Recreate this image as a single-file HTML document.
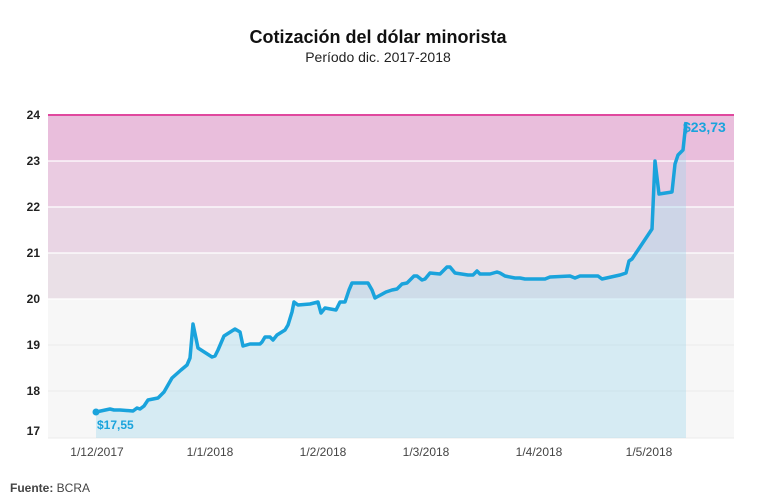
<!DOCTYPE html>
<html><head><meta charset="utf-8"><style>
body{margin:0;background:#fff;width:757px;height:497px;overflow:hidden;font-family:"Liberation Sans",Arial,sans-serif}
</style></head><body>
<svg width="757" height="497" xmlns="http://www.w3.org/2000/svg" font-family="Liberation Sans, Arial, sans-serif">
<text x="378" y="43" text-anchor="middle" font-size="18" font-weight="bold" fill="#111">Cotización del dólar minorista</text>
<text x="378" y="62" text-anchor="middle" font-size="14" fill="#222">Período dic. 2017-2018</text>
<rect x="48" y="115" width="686" height="46" fill="#e9bedc"/>
<rect x="48" y="161" width="686" height="46" fill="#eacbe1"/>
<rect x="48" y="207" width="686" height="46" fill="#e9d5e4"/>
<rect x="48" y="253" width="686" height="46" fill="#eae0e7"/>
<rect x="48" y="299" width="686" height="139" fill="#f7f7f7"/>
<g stroke="#fff" stroke-width="1.3"><line x1="48" y1="161" x2="734" y2="161"/><line x1="48" y1="207" x2="734" y2="207"/><line x1="48" y1="253" x2="734" y2="253"/><line x1="48" y1="299" x2="734" y2="299"/></g>
<g stroke="#ebebeb" stroke-width="1"><line x1="48" y1="345" x2="734" y2="345"/><line x1="48" y1="391" x2="734" y2="391"/><line x1="48" y1="438" x2="734" y2="438"/></g>
<line x1="48" y1="115" x2="734" y2="115" stroke="#e0489e" stroke-width="2"/>
<polygon fill="rgba(150,212,236,0.33)" points="96,438 96,412 110,409 114,410 120,410 133,411 137,408 140,409 144,406 148,400 158,398 164,392 168,385 172,378 181,370 187,365 190,358 193,324 198,348 212,357 215,356 218,350 224,336 235,329 240,332 243,346 250,344 260,344 262,342 265,337 270,337 273,340 277,335 285,330 288,325 292,312 294,302 298,305 310,304 318,302 321,313 325,308 336,310 340,302 345,302 349,290 352,283 366,283 368,283 372,290 375,298 386,292 392,290 397,289 402,284 407,283 414,276 417,276 422,280 425,279 430,273 440,274 447,267 450,267 455,273 468,275 473,275 477,271 480,274 490,274 497,272 500,273 505,276 515,278 520,278 525,279 545,279 550,277 570,276 575,278 580,276 598,276 602,279 620,275 626,273 629,261 632,259 636,253 652,229 655,161 659,194 672,192 675,164 678,155 683,150 686,122 686,438"/>
<polyline fill="none" stroke="#1aa3dc" stroke-width="3.5" stroke-linejoin="round" points="96,412 110,409 114,410 120,410 133,411 137,408 140,409 144,406 148,400 158,398 164,392 168,385 172,378 181,370 187,365 190,358 193,324 198,348 212,357 215,356 218,350 224,336 235,329 240,332 243,346 250,344 260,344 262,342 265,337 270,337 273,340 277,335 285,330 288,325 292,312 294,302 298,305 310,304 318,302 321,313 325,308 336,310 340,302 345,302 349,290 352,283 366,283 368,283 372,290 375,298 386,292 392,290 397,289 402,284 407,283 414,276 417,276 422,280 425,279 430,273 440,274 447,267 450,267 455,273 468,275 473,275 477,271 480,274 490,274 497,272 500,273 505,276 515,278 520,278 525,279 545,279 550,277 570,276 575,278 580,276 598,276 602,279 620,275 626,273 629,261 632,259 636,253 652,229 655,161 659,194 672,192 675,164 678,155 683,150 686,122"/>
<circle cx="96" cy="412" r="3.5" fill="#1aa3dc"/>
<text x="97" y="429" font-size="12" font-weight="bold" fill="#1aa3dc">$17,55</text>
<text x="683" y="132" font-size="14" font-weight="bold" fill="#1aa3dc">$23,73</text>
<g font-size="12" font-weight="bold" fill="#222" text-anchor="end">
<text x="40" y="119">24</text><text x="40" y="165">23</text><text x="40" y="211">22</text><text x="40" y="257">21</text><text x="40" y="303">20</text><text x="40" y="349">19</text><text x="40" y="395">18</text><text x="40" y="435">17</text></g>
<g font-size="12" fill="#444" text-anchor="middle">
<text x="97" y="456">1/12/2017</text><text x="210" y="456">1/1/2018</text><text x="323" y="456">1/2/2018</text><text x="426" y="456">1/3/2018</text><text x="539" y="456">1/4/2018</text><text x="649" y="456">1/5/2018</text></g>
<text x="10" y="492" font-size="12" fill="#444"><tspan font-weight="bold">Fuente:</tspan> BCRA</text>
</svg>
</body></html>
